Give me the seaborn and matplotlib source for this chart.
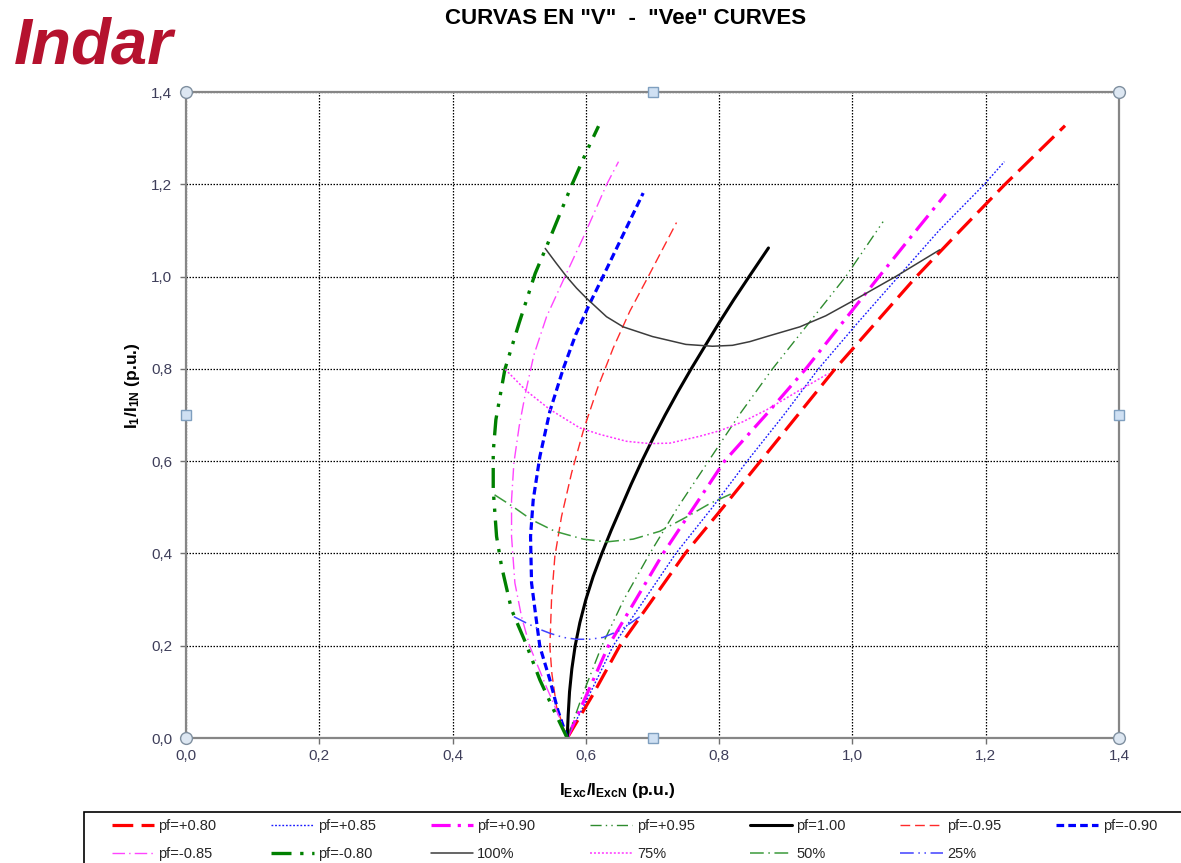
import matplotlib
matplotlib.use("Agg")
import matplotlib.pyplot as plt
import pandas as pd
import seaborn as sns
from matplotlib.patches import Rectangle

sns.set_theme(style="white")
plt.rcParams["font.family"] = ["Liberation Sans", "DejaVu Sans"]
plt.rcParams["mathtext.fontset"] = "custom"
plt.rcParams["mathtext.rm"] = "Liberation Sans"
plt.rcParams["mathtext.bf"] = "Liberation Sans:bold"
plt.rcParams["mathtext.it"] = "Liberation Sans:italic"

# ---- V-curves at constant power factor (I_exc p.u., I_1 p.u.) ----
pf_p080_iexc = [0.572, 0.609, 0.651, 0.700, 0.749, 0.806, 0.862, 0.918, 0.974, 1.035, 1.096, 1.162, 1.229, 1.319]
pf_p080_i1 = [0.000, 0.090, 0.200, 0.300, 0.400, 0.500, 0.600, 0.700, 0.800, 0.900, 1.000, 1.100, 1.200, 1.327]

pf_p085_iexc = [0.572, 0.604, 0.641, 0.688, 0.735, 0.790, 0.842, 0.897, 0.949, 1.008, 1.069, 1.130, 1.198, 1.228]
pf_p085_i1 = [0.000, 0.090, 0.200, 0.300, 0.400, 0.500, 0.600, 0.700, 0.800, 0.900, 1.000, 1.100, 1.200, 1.249]

pf_p090_iexc = [0.572, 0.600, 0.634, 0.675, 0.716, 0.762, 0.808, 0.870, 0.930, 0.985, 1.040, 1.090, 1.140]
pf_p090_i1 = [0.000, 0.090, 0.200, 0.300, 0.400, 0.500, 0.600, 0.700, 0.800, 0.900, 1.000, 1.090, 1.179]

pf_p095_iexc = [0.572, 0.596, 0.624, 0.657, 0.696, 0.738, 0.784, 0.830, 0.880, 0.935, 0.990, 1.046]
pf_p095_i1 = [0.000, 0.097, 0.200, 0.300, 0.400, 0.500, 0.600, 0.700, 0.800, 0.900, 1.000, 1.119]

pf_100_iexc = [0.572, 0.5735, 0.5755, 0.579, 0.584, 0.591, 0.600, 0.611, 0.624, 0.638, 0.653,
               0.668, 0.684, 0.701, 0.719, 0.738, 0.758, 0.779, 0.800, 0.822, 0.845, 0.874]
pf_100_i1 = [0.000, 0.050, 0.100, 0.150, 0.200, 0.250, 0.300, 0.350, 0.400, 0.450, 0.500,
             0.550, 0.600, 0.650, 0.700, 0.750, 0.800, 0.850, 0.900, 0.950, 1.000, 1.062]

pf_m095_iexc = [0.572, 0.556, 0.549, 0.546, 0.5485, 0.5535, 0.5635, 0.5785, 0.597, 0.618, 0.641, 0.666, 0.694, 0.736]
pf_m095_i1 = [0.000, 0.068, 0.140, 0.198, 0.300, 0.394, 0.480, 0.574, 0.670, 0.760, 0.845, 0.925, 1.001, 1.117]

pf_m090_iexc = [0.572, 0.558, 0.546, 0.531, 0.525, 0.5185, 0.517, 0.521, 0.531, 0.546, 0.566, 0.585, 0.606, 0.626, 0.657, 0.686]
pf_m090_i1 = [0.000, 0.060, 0.126, 0.198, 0.263, 0.336, 0.437, 0.516, 0.610, 0.708, 0.800, 0.875, 0.942, 1.001, 1.094, 1.181]

pf_m085_iexc = [0.572, 0.556, 0.541, 0.516, 0.5035, 0.4935, 0.4885, 0.4885, 0.492, 0.500, 0.510, 0.522, 0.541, 0.569, 0.599, 0.631, 0.649]
pf_m085_i1 = [0.000, 0.060, 0.110, 0.198, 0.263, 0.336, 0.437, 0.516, 0.596, 0.676, 0.752, 0.830, 0.913, 1.001, 1.094, 1.199, 1.249]

pf_m080_iexc = [0.572, 0.552, 0.531, 0.510, 0.4885, 0.4735, 0.466, 0.461, 0.461, 0.465, 0.4785, 0.500, 0.524, 0.541, 0.579, 0.601, 0.619]
pf_m080_i1 = [0.000, 0.060, 0.126, 0.205, 0.278, 0.372, 0.437, 0.538, 0.620, 0.690, 0.799, 0.900, 1.007, 1.065, 1.199, 1.271, 1.326]

# ---- constant load curves ----
load_100_iexc = [0.539, 0.555, 0.571, 0.586, 0.601, 0.631, 0.656, 0.700, 0.750, 0.790, 0.820, 0.846, 0.876, 0.921, 0.960, 0.999, 1.066, 1.131]
load_100_i1 = [1.061, 1.030, 1.000, 0.975, 0.953, 0.913, 0.891, 0.870, 0.853, 0.849, 0.851, 0.859, 0.872, 0.891, 0.915, 0.946, 1.001, 1.058]

load_75_iexc = [0.479, 0.511, 0.546, 0.591, 0.621, 0.661, 0.696, 0.726, 0.771, 0.801, 0.835, 0.871, 0.921, 0.964]
load_75_i1 = [0.799, 0.752, 0.712, 0.672, 0.658, 0.643, 0.638, 0.639, 0.654, 0.666, 0.685, 0.711, 0.754, 0.790]

load_50_iexc = [0.463, 0.490, 0.5185, 0.5535, 0.596, 0.631, 0.671, 0.711, 0.751, 0.786, 0.821]
load_50_i1 = [0.527, 0.502, 0.473, 0.448, 0.431, 0.425, 0.431, 0.448, 0.479, 0.508, 0.531]

load_25_iexc = [0.492, 0.511, 0.530, 0.546, 0.566, 0.586, 0.606, 0.626, 0.651, 0.681]
load_25_i1 = [0.263, 0.249, 0.236, 0.227, 0.218, 0.214, 0.214, 0.218, 0.233, 0.263]

x_ticks = [0.0, 0.2, 0.4, 0.6, 0.8, 1.0, 1.2, 1.4]
x_tick_labels = ["0,0", "0,2", "0,4", "0,6", "0,8", "1,0", "1,2", "1,4"]
y_ticks = [0.0, 0.2, 0.4, 0.6, 0.8, 1.0, 1.2, 1.4]
y_tick_labels = ["0,0", "0,2", "0,4", "0,6", "0,8", "1,0", "1,2", "1,4"]

series = [
    ("pf=+0.80", pf_p080_iexc, pf_p080_i1, "#ff0000", 2.3, (0, (6.5, 2.6))),
    ("pf=+0.85", pf_p085_iexc, pf_p085_i1, "#1a1aff", 1.0, (0, (1.3, 1.3))),
    ("pf=+0.90", pf_p090_iexc, pf_p090_i1, "#ff00ff", 2.3, (0, (6.0, 2.2, 1.0, 2.2))),
    ("pf=+0.95", pf_p095_iexc, pf_p095_i1, "#2e8b2e", 1.0, (0, (8.0, 3.0, 1.0, 3.0, 1.0, 3.0))),
    ("pf=1.00", pf_100_iexc, pf_100_i1, "#000000", 2.2, "-"),
    ("pf=-0.95", pf_m095_iexc, pf_m095_i1, "#ff2a2a", 1.0, (0, (7.0, 3.5))),
    ("pf=-0.90", pf_m090_iexc, pf_m090_i1, "#0000ff", 2.3, (0, (2.4, 1.3))),
    ("pf=-0.85", pf_m085_iexc, pf_m085_i1, "#ff44ff", 1.0, (0, (9.0, 3.0, 1.0, 3.0))),
    ("pf=-0.80", pf_m080_iexc, pf_m080_i1, "#008000", 2.4, (0, (6.0, 2.6, 1.0, 2.6, 1.0, 2.6))),
    ("100%", load_100_iexc, load_100_i1, "#3c3c3c", 1.1, "-"),
    ("75%", load_75_iexc, load_75_i1, "#ff33ff", 1.1, (0, (1.3, 1.3))),
    ("50%", load_50_iexc, load_50_i1, "#3a9a3a", 1.1, (0, (9.0, 3.0, 1.0, 3.0))),
    ("25%", load_25_iexc, load_25_i1, "#4040ff", 1.1, (0, (9.0, 3.0, 1.0, 3.0, 1.0, 3.0))),
]

W, H = 1181, 863
fig = plt.figure(figsize=(W / 100, H / 100), dpi=100)
ax = fig.add_axes([186 / W, 1 - 738 / H, 933 / W, 646 / H])

handles = {}
for label, xs, ys, color, lw, ls in series:
    df = pd.DataFrame({"iexc": xs, "i1": ys})
    sns.lineplot(data=df, x="iexc", y="i1", sort=False, estimator=None,
                 ax=ax, color=color, linewidth=lw, linestyle=ls, legend=False)
    line = ax.lines[-1]
    line.set_label(label)
    handles[label] = line

ax.set_xlim(0, 1.4)
ax.set_ylim(0, 1.4)
ax.set_xticks(x_ticks)
ax.set_xticklabels(x_tick_labels)
ax.set_yticks(y_ticks)
ax.set_yticklabels(y_tick_labels)
ax.grid(True, color="black", linestyle=(0, (1.2, 1.2)), linewidth=0.9)
ax.set_axisbelow(True)

for s in ax.spines.values():
    s.set_visible(True)
    s.set_color("#868686")
    s.set_linewidth(1.6)

ax.tick_params(axis="both", which="major", bottom=True, left=True, top=False, right=False,
               direction="out", length=4, width=1, color="#707070",
               labelsize=11, labelcolor="#3e3e5a")
ax.tick_params(axis="x", pad=4)
ax.tick_params(axis="y", pad=6)

ax.set_xlabel(r"$\mathbf{I_{Exc}/I_{ExcN}}$ (p.u.)", fontsize=12.5, fontweight="bold", color="black")
ax.set_ylabel(r"$\mathbf{I_{1}/I_{1N}}$ (p.u.)", fontsize=12.5, fontweight="bold", color="black")
ax.xaxis.set_label_coords(0.462, -0.066)
ax.yaxis.set_label_coords(-0.047, 0.546)

# chart-area selection handles
ax.plot([0, 1, 0, 1], [0, 0, 1, 1], transform=ax.transAxes, linestyle="none", marker="o",
        markersize=8.5, markerfacecolor="#dde7f2", markeredgecolor="#7f8f9f", markeredgewidth=1,
        clip_on=False, zorder=10)
ax.plot([0.5, 0.5, 0, 1], [0, 1, 0.5, 0.5], transform=ax.transAxes, linestyle="none", marker="s",
        markersize=6.5, markerfacecolor="#cfe0f3", markeredgecolor="#7f9fbf", markeredgewidth=1,
        clip_on=False, zorder=10)

fig.text(626 / W, 1 - 18 / H, 'CURVAS EN "V"  -  "Vee" CURVES', ha="center", va="center",
         fontsize=16, fontweight="bold", color="black")
fig.text(14 / W, 1 - 63 / H, "Indar", ha="left", va="baseline", fontsize=47, fontweight="bold",
         style="italic", family="Liberation Sans", color="#b5122e")

order = ["pf=+0.80", "pf=-0.85", "pf=+0.85", "pf=-0.80", "pf=+0.90", "100%",
         "pf=+0.95", "75%", "pf=1.00", "50%", "pf=-0.95", "25%", "pf=-0.90"]
fig.legend([handles[k] for k in order], order, loc="upper left",
           bbox_to_anchor=(106 / W, 1 - 813 / H), ncol=7, frameon=False,
           fontsize=10.5, handlelength=2.9, handletextpad=0.3, columnspacing=3.75,
           labelspacing=0.95, borderpad=0.4, borderaxespad=0)
fig.add_artist(Rectangle((84 / W, -0.05), 1.2, 0.05 + (H - 812) / H, transform=fig.transFigure,
                         fill=False, edgecolor="black", linewidth=1.2))

fig.savefig("out.png", dpi=100)
